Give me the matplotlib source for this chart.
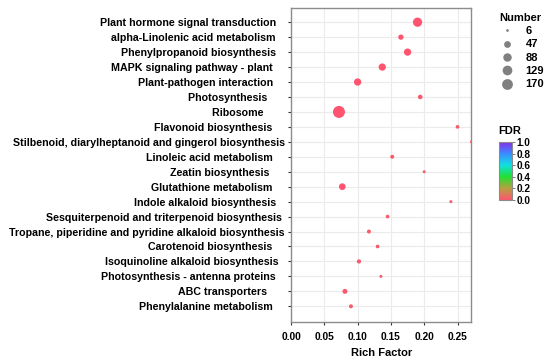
import numpy as np
import matplotlib.pyplot as plt
from matplotlib.colors import LinearSegmentedColormap
from matplotlib.lines import Line2D

plt.rcParams['font.family'] = ['Liberation Sans', 'DejaVu Sans']
plt.rcParams['font.weight'] = 'bold'

# pathway names, top to bottom (trailing spaces kept as in the original labels)
pathways = [
    'Plant hormone signal transduction   ',
    'alpha-Linolenic acid metabolism   ',
    'Phenylpropanoid biosynthesis   ',
    'MAPK signaling pathway - plant    ',
    'Plant-pathogen interaction    ',
    'Photosynthesis      ',
    'Ribosome       ',
    'Flavonoid biosynthesis    ',
    'Stilbenoid, diarylheptanoid and gingerol biosynthesis',
    'Linoleic acid metabolism    ',
    'Zeatin biosynthesis     ',
    'Glutathione metabolism    ',
    'Indole alkaloid biosynthesis   ',
    'Sesquiterpenoid and triterpenoid biosynthesis ',
    'Tropane, piperidine and pyridine alkaloid biosynthesis',
    'Carotenoid biosynthesis    ',
    'Isoquinoline alkaloid biosynthesis  ',
    'Photosynthesis - antenna proteins   ',
    'ABC transporters      ',
    'Phenylalanine metabolism    ',
]
rich_factor = [0.190, 0.165, 0.175, 0.137, 0.100, 0.194, 0.072, 0.250, 0.271, 0.152,
               0.200, 0.077, 0.240, 0.145, 0.117, 0.130, 0.102, 0.135, 0.081, 0.090]
gene_number = [85, 17, 43, 43, 43, 11, 170, 7, 6, 8,
               6, 34, 6, 7, 8, 7, 9, 6, 14, 8]
fdr = [0.0, 0.0, 0.0, 0.0, 0.0, 0.01, 0.0, 0.02, 0.03, 0.02,
       0.03, 0.0, 0.03, 0.02, 0.02, 0.02, 0.02, 0.03, 0.01, 0.02]
size_breaks = [6, 47, 88, 129, 170]

fdr_cmap = LinearSegmentedColormap.from_list(
    'fdr', [(0.0, '#FF5470'), (0.2, '#B8A040'), (0.4, '#22E030'),
            (0.6, '#10E0E0'), (0.8, '#3A8CFF'), (1.0, '#8A2BE8')])


def marker_area(n):
    # diameter in px, ggplot-like sqrt scaling between min and max count
    d = 3 + 9 * np.sqrt((np.asarray(n, float) - 6) / 164)
    return (d * 0.72) ** 2


fig = plt.figure(figsize=(5.5, 3.63), dpi=100)
ax = fig.add_axes([291 / 550, 1 - 322 / 363, 180.5 / 550, 314 / 363])

ypos = np.arange(len(pathways))[::-1]
ax.scatter(rich_factor, ypos, s=marker_area(gene_number), c=fdr, cmap=fdr_cmap,
           vmin=0, vmax=1, linewidths=0, zorder=3)

ax.set_xlim(0, 0.271)
ax.set_ylim(-1.05, len(pathways) - 0.05)
ax.set_xticks([0, 0.05, 0.10, 0.15, 0.20, 0.25])
ax.set_xticklabels(['0.00', '0.05', '0.10', '0.15', '0.20', '0.25'])
ax.set_yticks(ypos)
ax.set_yticklabels(pathways)
ax.grid(True, color='#EBEBEB', linewidth=0.8, zorder=0)
ax.set_axisbelow(True)
for sp in ax.spines.values():
    sp.set_color('#8C8C8C')
    sp.set_linewidth(1.0)
ax.tick_params(axis='both', colors='#333333', labelcolor='black',
               length=2.5, width=0.8)
ax.tick_params(axis='y', labelsize=7.7, pad=2)
ax.tick_params(axis='x', labelsize=7.4, pad=5)
ax.set_xlabel('Rich Factor', fontsize=8, fontweight='bold', labelpad=4)

# size legend
handles = [Line2D([], [], linestyle='none', marker='o', color='#808080',
                  markeredgewidth=0, markersize=np.sqrt(marker_area(b)) * 0.9)
           for b in size_breaks]
leg = fig.legend(handles, [str(b) for b in size_breaks], title='Number',
                 loc='upper left', bbox_to_anchor=(491 / 550, 1 - 5 / 363),
                 frameon=False, fontsize=8, title_fontsize=8,
                 handletextpad=1.0, labelspacing=0.3, borderpad=0.2,
                 handlelength=1.4)
leg._legend_box.align = 'left'

# colour bar
cax = fig.add_axes([498.5 / 550, 1 - 200 / 363, 13 / 550, 58 / 363])
cb = fig.colorbar(plt.cm.ScalarMappable(cmap=fdr_cmap, norm=plt.Normalize(0, 1)),
                  cax=cax, ticks=[0, 0.2, 0.4, 0.6, 0.8, 1.0])
cb.outline.set_edgecolor('#8C8C8C')
cb.outline.set_linewidth(0.8)
cax.tick_params(labelsize=7.2, length=2, width=0.6, colors='#666666',
                labelcolor='black', pad=1.5)
cax.set_title('FDR', fontsize=8, fontweight='bold', loc='left', pad=6)

fig.savefig('out.png', dpi=100)
